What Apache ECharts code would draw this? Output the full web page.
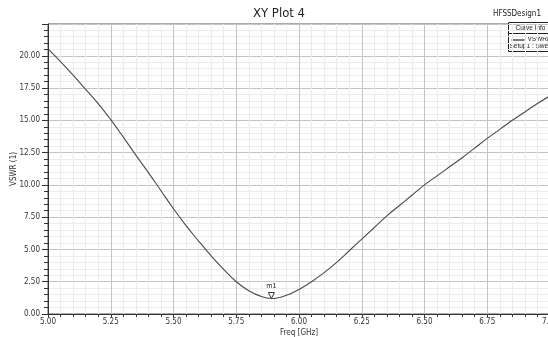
<!DOCTYPE html>
<html>
<head>
<meta charset="utf-8">
<script src="https://cdn.jsdelivr.net/npm/echarts@6/dist/echarts.min.js"></script>
<style>
  html, body { margin: 0; padding: 0; background: #fff; }
  #chart { width: 548px; height: 337px; }
</style>
</head>
<body>
<div id="chart"></div>
<script>
// Sweep frequencies (GHz) and VSWR values of the port
const freqGHz = [5.00, 5.05, 5.10, 5.15, 5.20, 5.25, 5.30, 5.35, 5.40, 5.45,
                 5.50, 5.55, 5.60, 5.65, 5.70, 5.75, 5.80, 5.85, 5.89, 5.95,
                 6.00, 6.05, 6.10, 6.15, 6.20, 6.25, 6.30, 6.35, 6.40, 6.45,
                 6.50, 6.55, 6.60, 6.65, 6.70, 6.75, 6.80, 6.85, 6.90, 6.95, 7.00];
const vswr = [20.54, 19.55, 18.5, 17.4, 16.3, 15.05, 13.7, 12.3, 10.95, 9.55,
              8.15, 6.85, 5.65, 4.5, 3.45, 2.5, 1.8, 1.35, 1.2, 1.45,
              1.9, 2.5, 3.2, 4.0, 4.9, 5.8, 6.7, 7.6, 8.4, 9.2,
              10.0, 10.7, 11.4, 12.1, 12.85, 13.6, 14.3, 15.0, 15.65, 16.3, 16.9];

// Marker m1 at the resonance
const markerName = 'm1';
const markerFreq = 5.89;
const markerValue = 1.2;

const FONT = "'Liberation Sans Narrow', 'DejaVu Sans Condensed', 'Liberation Sans', sans-serif";
const SMALL = "'Liberation Sans', Arial, sans-serif";

const chart = echarts.init(document.getElementById('chart'), null, { renderer: 'canvas' });

chart.setOption({
  animation: false,
  backgroundColor: '#ffffff',
  title: {
    text: 'XY Plot 4',
    left: 274, top: 2, textAlign: 'center',
    textStyle: { fontFamily: FONT, fontSize: 13, fontWeight: 'normal', color: '#222' }
  },
  grid: {
    left: 48, right: -2, top: 24, bottom: 23,
    outerBoundsMode: 'none',
    containLabel: false,
    show: true, borderColor: '#555', borderWidth: 1, backgroundColor: 'transparent'
  },
  xAxis: {
    type: 'value', min: 5, max: 7, interval: 0.25,
    name: 'Freq [GHz]', nameLocation: 'middle', nameGap: 15,
    nameMoveOverlap: false,
    nameTextStyle: { fontFamily: FONT, fontSize: 8, color: '#333' },
    axisLine: { show: true, onZero: false, lineStyle: { color: '#333', width: 1 } },
    axisTick: { show: true, length: 3, lineStyle: { color: '#333' } },
    minorTick: { show: true, splitNumber: 5, length: 3, lineStyle: { color: '#333' } },
    axisLabel: {
      fontFamily: FONT, fontSize: 8, color: '#333', margin: 4,
      formatter: v => v.toFixed(2)
    },
    splitLine: { show: true, lineStyle: { color: '#c4c4c4', width: 1 } },
    minorSplitLine: { show: true, lineStyle: { color: '#ececec', width: 1 } }
  },
  yAxis: {
    type: 'value', min: 0, max: 22.46, interval: 2.5,
    name: 'VSWR (1)', nameLocation: 'middle', nameGap: 30,
    nameMoveOverlap: false,
    nameTextStyle: { fontFamily: FONT, fontSize: 8, color: '#333' },
    axisLine: { show: true, onZero: false, lineStyle: { color: '#333', width: 1 } },
    axisTick: { show: true, length: 6, lineStyle: { color: '#333' } },
    minorTick: { show: true, splitNumber: 5, length: 4, lineStyle: { color: '#333' } },
    axisLabel: {
      fontFamily: FONT, fontSize: 8, color: '#333', margin: 8,
      showMaxLabel: false,
      formatter: v => (v > 20.01 ? '' : v.toFixed(2))
    },
    splitLine: { show: true, lineStyle: { color: '#c4c4c4', width: 1 } },
    minorSplitLine: { show: true, lineStyle: { color: '#ececec', width: 1 } }
  },
  series: [{
    name: 'VSWR(1)',
    type: 'line',
    data: freqGHz.map((f, i) => [f, vswr[i]]),
    showSymbol: false,
    smooth: 0.4,
    lineStyle: { color: '#4a4a4a', width: 1.1 },
    markPoint: {
      symbol: 'triangle',
      symbolSize: [6, 6],
      symbolRotate: 180,
      symbolOffset: [0, -3],
      itemStyle: { color: '#fff', borderColor: '#333', borderWidth: 1 },
      label: {
        show: true, position: 'top', distance: 2,
        formatter: markerName,
        fontFamily: FONT, fontSize: 7, color: '#222'
      },
      data: [{ coord: [markerFreq, markerValue] }]
    }
  }],
  graphic: [
    {
      type: 'text', left: 493, top: 10,
      style: { text: 'HFSSDesign1', fontFamily: FONT, fontSize: 8, fill: '#222' }
    },
    {
      type: 'group', left: 506, top: 22,
      children: [
        { type: 'rect', shape: { x: 0, y: 0, width: 60, height: 29 },
          style: { fill: '#fff', stroke: '#222', lineWidth: 1 } },
        { type: 'line', shape: { x1: 0, y1: 11, x2: 60, y2: 11 },
          style: { stroke: '#222', lineWidth: 1 } },
        { type: 'text', x: 7, y: 2,
          style: { text: 'Curve Info', fontFamily: SMALL, fontSize: 6.5, fill: '#222' } },
        { type: 'line', shape: { x1: 3, y1: 17.5, x2: 16, y2: 17.5 },
          style: { stroke: '#222', lineWidth: 1.2 } },
        { type: 'text', x: 19, y: 13.5,
          style: { text: 'VSWR(1)', fontFamily: SMALL, fontSize: 6.5, fill: '#222' } },
        { type: 'text', x: 1, y: 20.5,
          style: { text: 'Setup1 : Sweep', fontFamily: SMALL, fontSize: 6.5, fill: '#222' } }
      ]
    }
  ]
});
</script>
</body>
</html>
